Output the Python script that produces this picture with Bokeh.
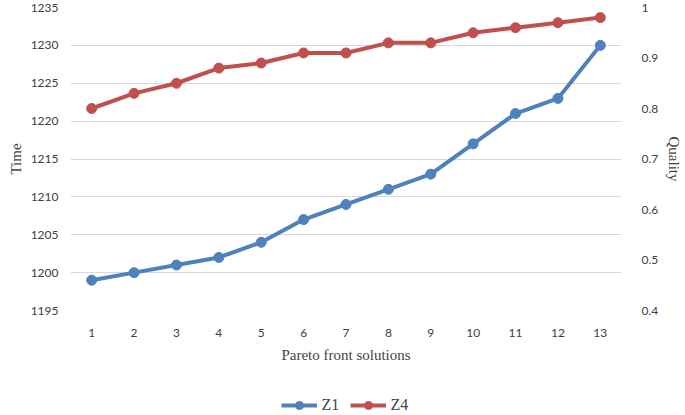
from bokeh.plotting import figure
from bokeh.layouts import column
from bokeh.models import (Range1d, LinearAxis, FixedTicker, CustomJSTickFormatter,
                          Legend, LegendItem)
from bokeh.embed import file_html
from bokeh.resources import INLINE

solutions = list(range(1, 14))
z1_time = [1199, 1200, 1201, 1202, 1204, 1207, 1209, 1211, 1213, 1217, 1221, 1223, 1230]
z4_quality = [0.80, 0.83, 0.85, 0.88, 0.89, 0.91, 0.91, 0.93, 0.93, 0.95, 0.96, 0.97, 0.98]
time_ticks = [1195, 1200, 1205, 1210, 1215, 1220, 1225, 1230, 1235]
quality_ticks = [0.4, 0.5, 0.6, 0.7, 0.8, 0.9, 1.0]
series_names = ["Z1", "Z4"]

BLUE = "#4F81BD"
RED = "#C0504D"
TICK_FONT = "Lato"
TITLE_FONT = "Liberation Serif"

p = figure(width=685, height=374, output_backend="svg", toolbar_location=None,
           x_range=Range1d(0.5, 13.5), y_range=Range1d(1195, 1235),
           min_border_left=70, min_border_right=63, min_border_top=7,
           min_border_bottom=64)
p.outline_line_color = None
p.background_fill_color = "white"
p.border_fill_color = "white"

p.extra_y_ranges = {"q": Range1d(0.4, 1.0)}

# x axis
xa = p.xaxis[0]
xa.ticker = FixedTicker(ticks=solutions)
xa.axis_label = "Pareto front solutions"
xa.axis_label_text_font = TITLE_FONT
xa.axis_label_text_font_size = "15px"
xa.axis_label_text_font_style = "normal"
xa.axis_label_standoff = 7
xa.major_label_text_font = TICK_FONT
xa.major_label_text_font_size = "12px"
xa.major_label_text_color = "#404040"
xa.major_label_standoff = 12
xa.axis_line_color = None
xa.major_tick_line_color = None
xa.minor_tick_line_color = None

# left axis
ya = p.yaxis[0]
ya.ticker = FixedTicker(ticks=time_ticks)
ya.axis_label = "Time"
ya.axis_label_text_font = TITLE_FONT
ya.axis_label_text_font_size = "15px"
ya.axis_label_text_font_style = "normal"
ya.axis_label_standoff = 4
ya.major_label_text_font = TICK_FONT
ya.major_label_text_font_size = "12px"
ya.major_label_text_color = "#404040"
ya.major_label_standoff = 6
ya.axis_line_color = None
ya.major_tick_line_color = None
ya.minor_tick_line_color = None

# right axis
ra = LinearAxis(y_range_name="q", ticker=FixedTicker(ticks=quality_ticks),
                formatter=CustomJSTickFormatter(code="return String(Number(tick.toFixed(2)));"))
ra.axis_label = "Quality"
ra.axis_label_text_font = TITLE_FONT
ra.axis_label_text_font_size = "15px"
ra.axis_label_text_font_style = "normal"
ra.axis_label_standoff = 5
ra.major_label_text_font = TICK_FONT
ra.major_label_text_font_size = "12px"
ra.major_label_text_color = "#404040"
ra.major_label_standoff = 14
ra.axis_line_color = None
ra.major_tick_line_color = None
ra.minor_tick_line_color = None
p.add_layout(ra, "right")

p.xgrid.grid_line_color = None
p.ygrid.grid_line_color = "#D9D9D9"
p.ygrid.grid_line_width = 1

p.line(solutions, z1_time, line_color=BLUE, line_width=4)
p.scatter(solutions, z1_time, size=10, fill_color=BLUE, line_color=BLUE)
p.line(solutions, z4_quality, line_color=RED, line_width=4, y_range_name="q")
p.scatter(solutions, z4_quality, size=10, fill_color=RED, line_color=RED, y_range_name="q")

# legend strip below the chart (series drawn outside its visible range; only the legend shows)
lg = figure(width=685, height=41, output_backend="svg", toolbar_location=None,
            x_range=Range1d(-2, -1), y_range=Range1d(-2, -1),
            min_border_left=0, min_border_right=0, min_border_top=0, min_border_bottom=0)
lg.axis.visible = False
lg.grid.grid_line_color = None
lg.outline_line_color = None
items = []
for name, col, vals in zip(series_names, [BLUE, RED], [z1_time, z4_quality]):
    rl = lg.line(solutions, vals, line_color=col, line_width=4)
    rs = lg.scatter(solutions, vals, size=10, fill_color=col, line_color=col)
    items.append(LegendItem(label=name, renderers=[rl, rs]))
legend = Legend(items=items, orientation="horizontal", location="bottom",
                label_text_font=TITLE_FONT, label_text_font_size="16px",
                border_line_color=None, background_fill_alpha=0,
                glyph_width=36, label_standoff=5, spacing=8, padding=2, margin=0)
lg.add_layout(legend)

layout = column(p, lg, spacing=0)
open("out.html", "w").write(file_html(layout, INLINE))
